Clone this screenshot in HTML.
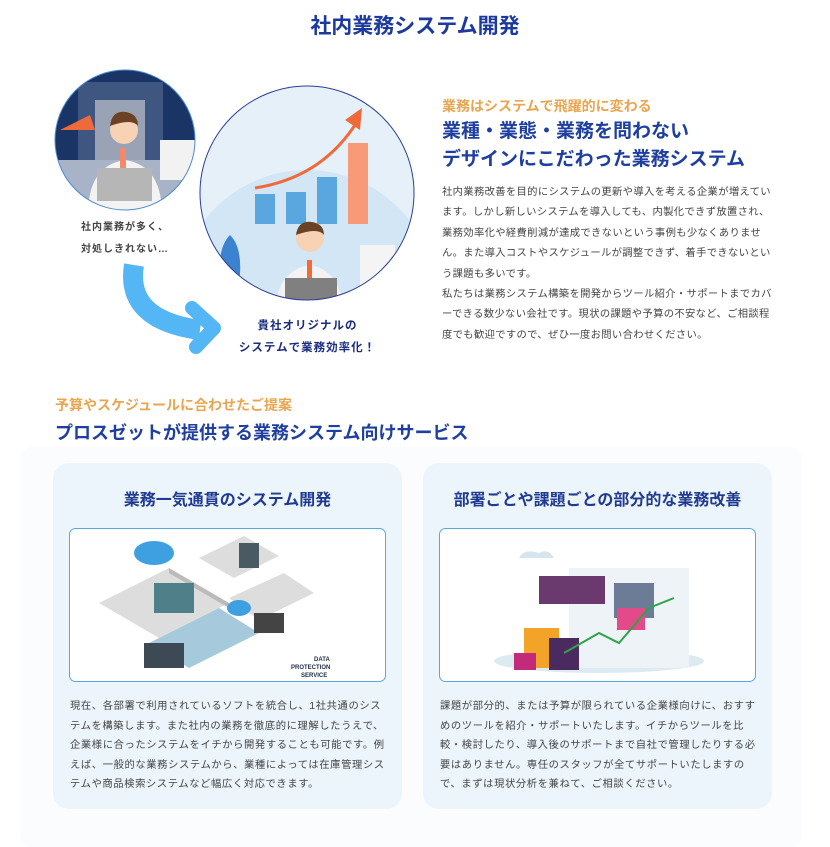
<!DOCTYPE html>
<html><head><meta charset="utf-8"><style>
*{margin:0;padding:0;box-sizing:border-box}
body{width:830px;height:831px;background:#fff;position:relative;overflow:hidden;font-family:"Liberation Sans","Noto Sans CJK JP",sans-serif}
.a{position:absolute}
.t{color:#1f3fa0;font-weight:bold}
.o{color:#e9a550;font-weight:bold}
.b{color:#444;font-size:10.5px}
</style></head><body>
<div class="a t" style="left:0;width:830px;text-align:center;top:10px;font-size:21px;color:#1c3a9e">社内業務システム開発</div>

<svg class="a" style="left:0;top:60px" width="430" height="310" viewBox="0 0 430 310">
<defs><clipPath id="c1"><circle cx="125" cy="80" r="70"/></clipPath><clipPath id="c2"><circle cx="307" cy="133" r="107"/></clipPath></defs>
<g clip-path="url(#c1)">
<rect x="50" y="5" width="150" height="150" fill="#1b3466"/>
<rect x="78" y="22" width="85" height="88" fill="#3f5680"/>
<rect x="95" y="40" width="50" height="70" fill="#9aa3b5"/>
<rect x="50" y="100" width="150" height="60" fill="#a9b3c8"/>
<polygon points="60,70 90,55 95,70" fill="#ef6a3a"/>
<rect x="160" y="80" width="35" height="40" fill="#f2f2f2"/>
<path d="M88 150 Q90 105 125 100 Q160 105 162 150Z" fill="#f3f3f3"/>
<circle cx="124" cy="70" r="14" fill="#f7d2b5"/>
<path d="M110 66 Q112 50 126 52 Q138 54 138 66 Q132 58 110 66Z" fill="#6b4223"/>
<rect x="120" y="88" width="6" height="22" fill="#f28a6a"/>
<rect x="97" y="108" width="55" height="33" fill="#b6b6b6"/>
</g>
<circle cx="125" cy="80" r="70" fill="none" stroke="#4a8ad0" stroke-width="1"/>
<g clip-path="url(#c2)">
<rect x="195" y="20" width="225" height="230" fill="#e6f0f8"/>
<ellipse cx="307" cy="240" rx="130" ry="130" fill="#d3e6f5"/>
<rect x="255" y="134" width="20" height="30" fill="#5aa7e0"/>
<rect x="286" y="132" width="20" height="32" fill="#5aa7e0"/>
<rect x="317" y="117" width="20" height="47" fill="#5aa7e0"/>
<rect x="348" y="83" width="20" height="81" fill="#f89a78"/>
<path d="M255 128 Q320 118 355 65" stroke="#ef6a3a" stroke-width="3" fill="none"/>
<polygon points="345,60 362,48 360,70" fill="#ef6a3a"/>
<path d="M222 230 Q215 190 230 175 Q245 190 238 230Z" fill="#3b82d0"/>
<rect x="360" y="185" width="35" height="45" fill="#f4f4f4"/>
<path d="M275 250 Q278 210 310 205 Q340 210 343 250Z" fill="#f3f3f3"/>
<circle cx="310" cy="178" r="14" fill="#f7d2b5"/>
<path d="M296 175 Q298 160 312 162 Q324 164 324 175 Q318 167 296 175Z" fill="#6b4223"/>
<rect x="307" y="200" width="5" height="22" fill="#f06a3a"/>
<rect x="285" y="218" width="52" height="30" fill="#808080"/>
</g>
<circle cx="307" cy="133" r="107" fill="none" stroke="#2c3f99" stroke-width="1"/>
<path d="M134 205 Q125 260 200 270" stroke="#55b6f5" stroke-width="20" fill="none"/>
<polyline points="192,248 214,268 196,287" stroke="#55b6f5" stroke-width="14" fill="none" stroke-linecap="round" stroke-linejoin="round"/>
</svg>
<div class="a" style="left:60px;width:130px;text-align:center;top:217px;font-size:10px;color:#444;line-height:22px;font-weight:bold;letter-spacing:1px">社内業務が多く、<br>対処しきれない…</div>
<div class="a t" style="left:215px;width:185px;text-align:center;top:315px;font-size:11.5px;line-height:22px;color:#1a2c80;letter-spacing:1px">貴社オリジナルの<br>システムで業務効率化！</div>

<div class="a o" style="left:442px;top:96px;font-size:14px">業務はシステムで飛躍的に変わる</div>
<div class="a t" style="left:442px;top:118px;font-size:19px;line-height:28px">業種・業態・業務を問わない<br>デザインにこだわった業務システム</div>
<div class="a b" style="left:442px;top:183px;width:335px;line-height:20.4px;font-size:10.3px;letter-spacing:0.35px">社内業務改善を目的にシステムの更新や導入を考える企業が増えています。しかし新しいシステムを導入しても、内製化できず放置され、業務効率化や経費削減が達成できないという事例も少なくありません。また導入コストやスケジュールが調整できず、着手できないという課題も多いです。<br>私たちは業務システム構築を開発からツール紹介・サポートまでカバーできる数少ない会社です。現状の課題や予算の不安など、ご相談程度でも歓迎ですので、ぜひ一度お問い合わせください。</div>

<div class="a o" style="left:55px;top:395px;font-size:14px">予算やスケジュールに合わせたご提案</div>
<div class="a t" style="left:55px;top:419px;font-size:18px">プロスゼットが提供する業務システム向けサービス</div>

<div class="a" style="left:20px;top:447px;width:782px;height:400px;background:#fbfcfe;border-radius:12px"></div>
<div class="a" style="left:53px;top:463px;width:349px;height:346px;background:#ecf5fc;border-radius:16px"></div>
<div class="a" style="left:423px;top:463px;width:349px;height:346px;background:#ecf5fc;border-radius:16px"></div>
<div class="a t" style="left:53px;width:349px;text-align:center;top:486px;font-size:16px;color:#1f3a90">業務一気通貫のシステム開発</div>
<div class="a t" style="left:423px;width:349px;text-align:center;top:486px;font-size:16px;color:#1f3a90">部署ごとや課題ごとの部分的な業務改善</div>

<svg class="a" style="left:69px;top:528px" width="317" height="154">
<rect x="0.5" y="0.5" width="316" height="153" rx="6" fill="#fff" stroke="#5aa7dc"/>
<polygon points="30,75 100,40 160,75 90,110" fill="#ddd"/>
<polygon points="100,40 160,75 160,80 100,45" fill="#bbb"/>
<polygon points="130,30 175,8 210,28 165,50" fill="#ddd"/>
<polygon points="160,70 215,45 245,65 190,92" fill="#ddd"/>
<polygon points="80,115 150,80 190,105 120,140" fill="#a7c9dc"/>
<rect x="85" y="55" width="40" height="30" fill="#4f7f89"/>
<rect x="170" y="15" width="20" height="25" fill="#4a5a64"/>
<ellipse cx="85" cy="25" rx="20" ry="12" fill="#3ea0e0"/>
<ellipse cx="170" cy="80" rx="12" ry="8" fill="#3ea0e0"/>
<rect x="75" y="115" width="40" height="25" fill="#3d4a55"/>
<rect x="185" y="85" width="30" height="20" fill="#444"/>
<text x="245" y="133" font-size="6" font-weight="bold" fill="#1c2d44" font-family="Liberation Sans">DATA</text>
<text x="222" y="141" font-size="6" font-weight="bold" fill="#1c2d44" font-family="Liberation Sans">PROTECTION</text>
<text x="232" y="149" font-size="6" font-weight="bold" fill="#1c2d44" font-family="Liberation Sans">SERVICE</text>
</svg>
<svg class="a" style="left:439px;top:528px" width="317" height="154">
<rect x="0.5" y="0.5" width="316" height="153" rx="6" fill="#fff" stroke="#5aa7dc"/>
<ellipse cx="160" cy="133" rx="105" ry="12" fill="#dceaf2"/>
<rect x="130" y="40" width="120" height="100" fill="#eef3f7"/>
<rect x="175" y="55" width="40" height="35" fill="#6d7c96"/>
<rect x="100" y="48" width="66" height="28" fill="#6a3a6f"/>
<rect x="85" y="100" width="35" height="40" fill="#f3a428"/>
<rect x="110" y="110" width="30" height="32" fill="#4a2a5f"/>
<rect x="75" y="125" width="22" height="17" fill="#c22a7a"/>
<rect x="178" y="80" width="28" height="22" fill="#e34a8a"/>
<polyline points="125,125 160,105 180,115 210,80 235,70" stroke="#2ea44a" stroke-width="2" fill="none"/>
<path d="M80 30 Q85 20 100 25 Q110 20 115 30Z" fill="#d8e4ec"/>
</svg>

<div class="a b" style="left:70px;top:697px;width:320px;line-height:19.5px;font-size:10.3px;letter-spacing:0.6px">現在、各部署で利用されているソフトを統合し、1社共通のシステムを構築します。また社内の業務を徹底的に理解したうえで、企業様に合ったシステムをイチから開発することも可能です。例えば、一般的な業務システムから、業種によっては在庫管理システムや商品検索システムなど幅広く対応できます。</div>
<div class="a b" style="left:440px;top:697px;width:320px;line-height:19.5px;font-size:10.3px;letter-spacing:0.6px">課題が部分的、または予算が限られている企業様向けに、おすすめのツールを紹介・サポートいたします。イチからツールを比較・検討したり、導入後のサポートまで自社で管理したりする必要はありません。専任のスタッフが全てサポートいたしますので、まずは現状分析を兼ねて、ご相談ください。</div>
</body></html>
